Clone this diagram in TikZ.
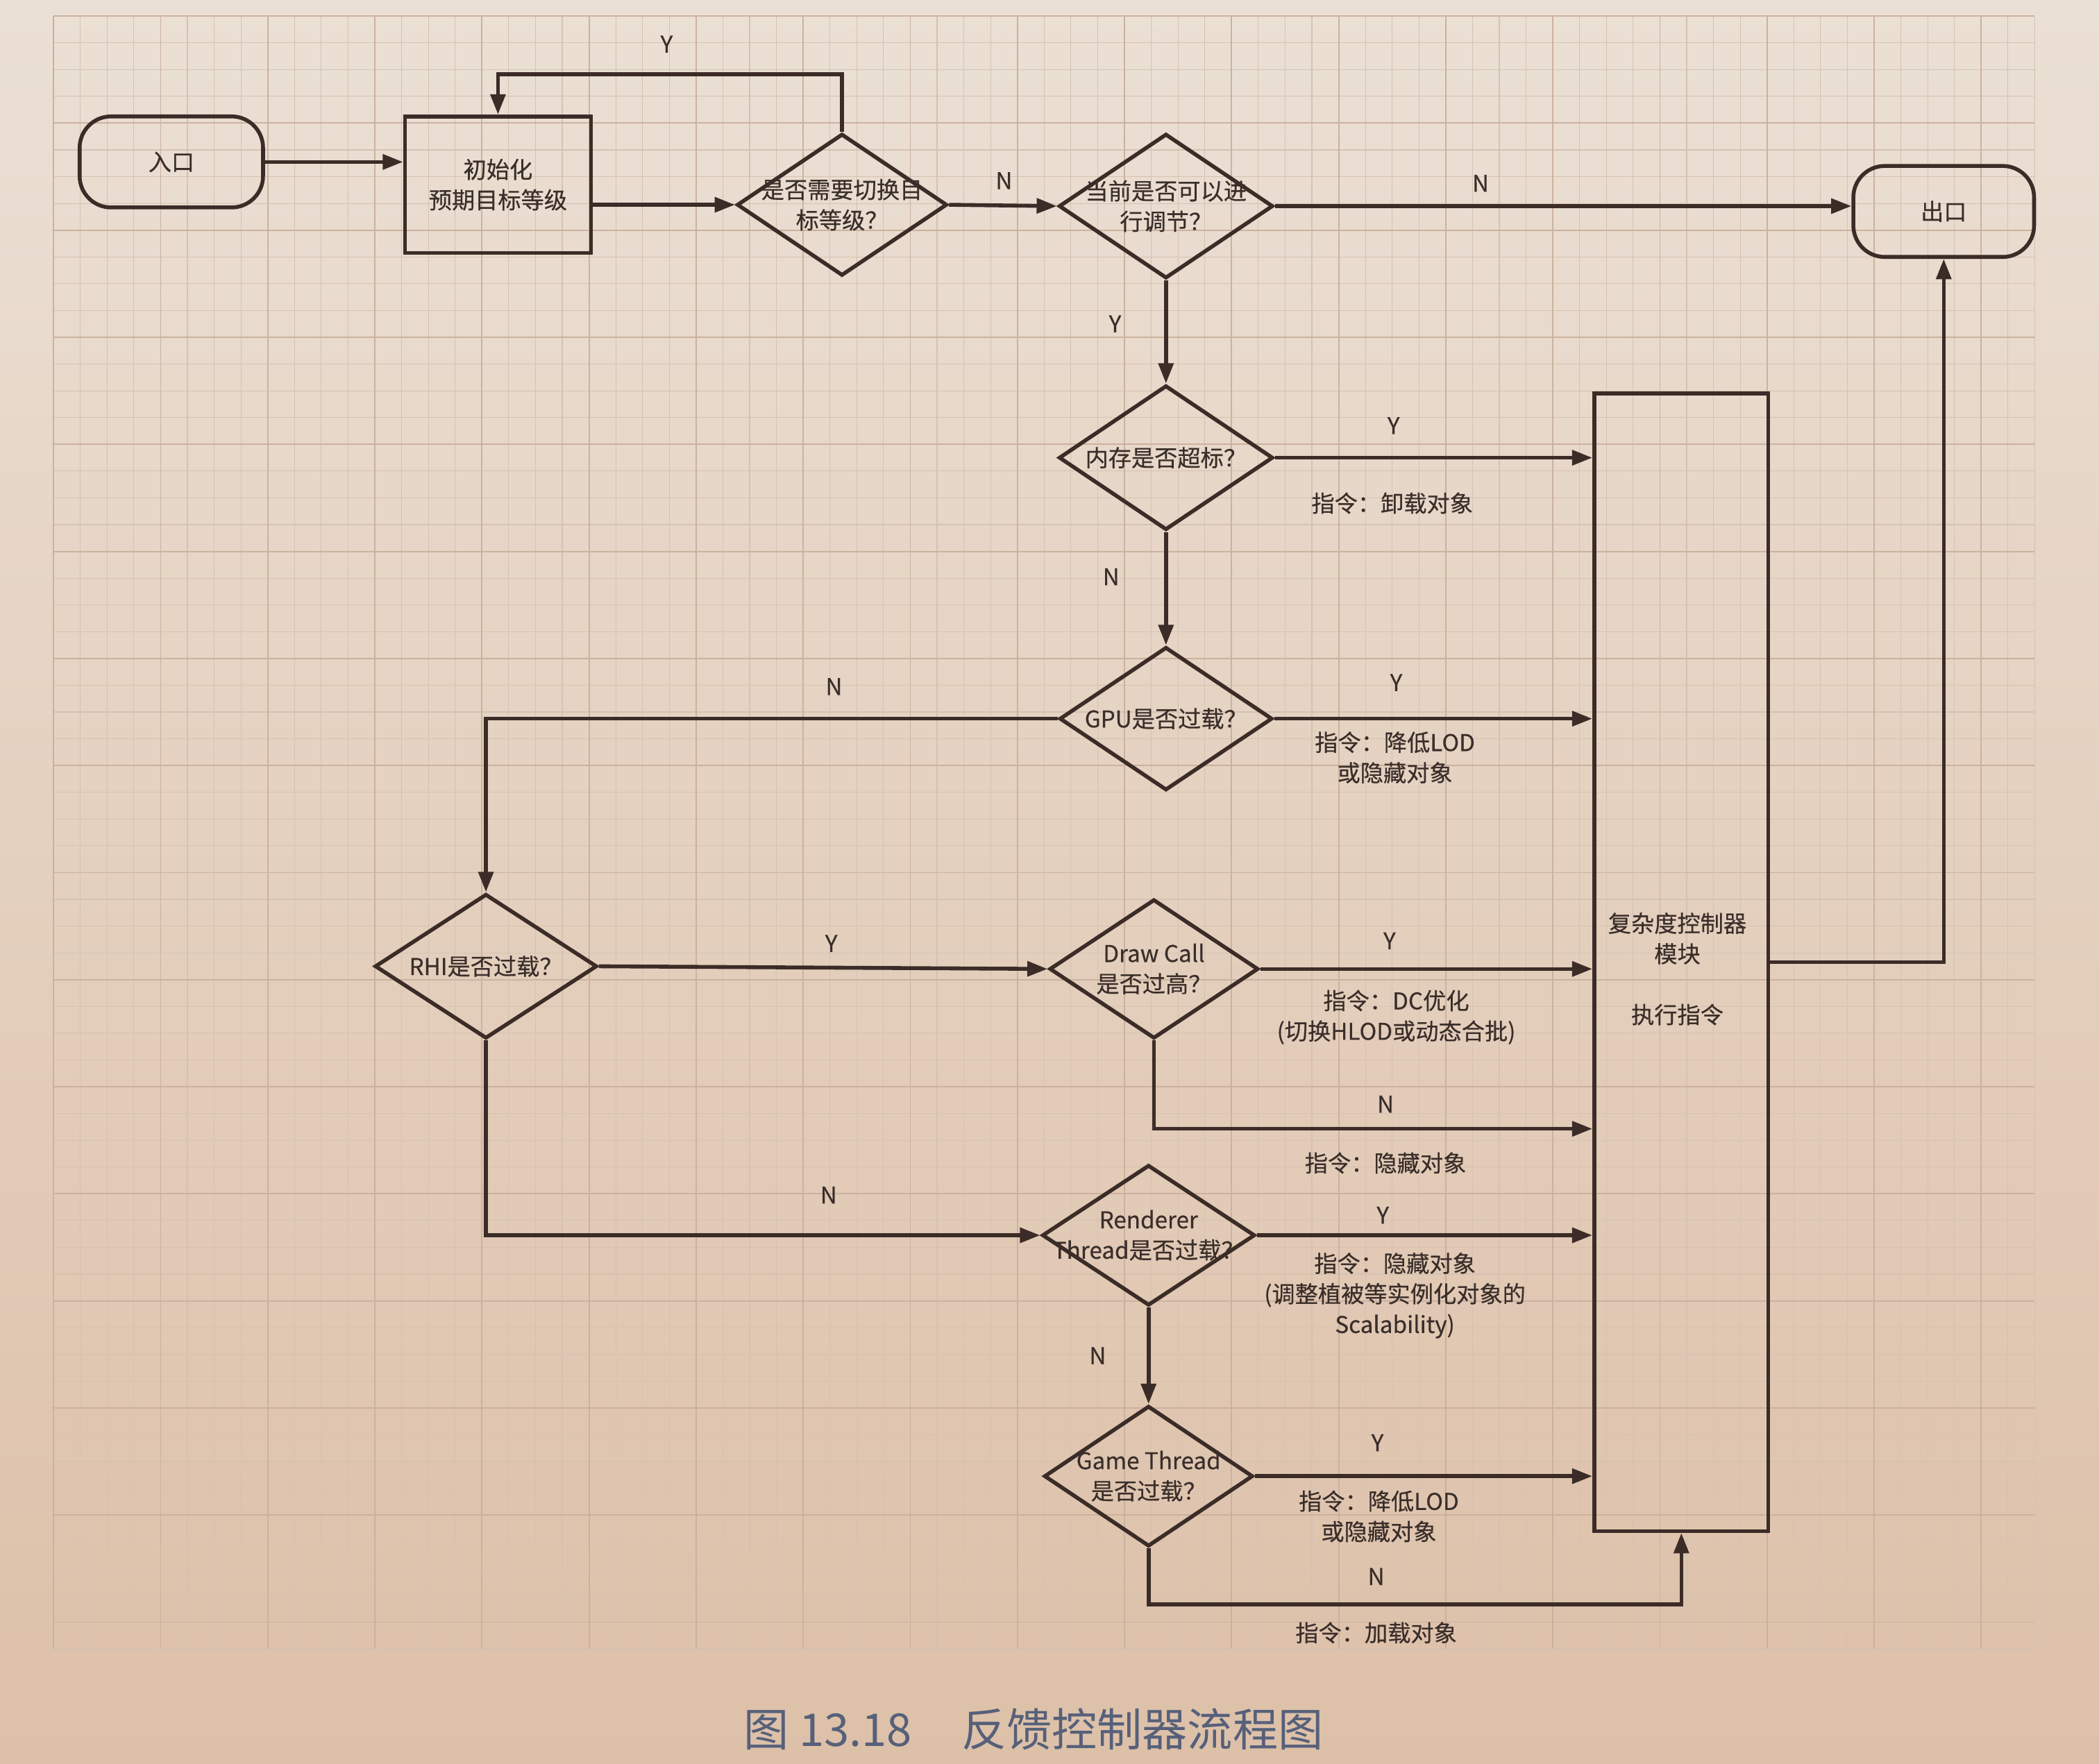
\documentclass[tikz,border=0pt]{standalone}
\usepackage{fontspec}
\setmainfont{Noto Sans CJK SC}[UprightFeatures={FakeBold=0.4}]
\newfontfamily\capfont{Noto Sans CJK SC}
\usetikzlibrary{shapes.geometric,arrows.meta,calc}
\def\UU{0.7257pt}
\definecolor{ink}{HTML}{3B2C27}
\definecolor{txtc}{HTML}{3A2E2A}
\definecolor{papertop}{HTML}{EBE0D5}
\definecolor{paperbot}{HTML}{DDC0A8}
\definecolor{gridminor}{HTML}{D5C2B1}
\definecolor{gridmajor}{HTML}{CBB29E}
\definecolor{capc}{HTML}{56607A}
\begin{document}
\begin{tikzpicture}[x=0.7257pt,y=-0.7257pt,
  line/.style={draw=ink,line width=2.1pt},
  arr/.style={draw=ink,line width=2.1pt,-{Triangle[length=11pt,width=8pt]}},
  txt/.style={font=\fontsize{12.5pt}{16.5pt}\selectfont,text=txtc,align=center,inner sep=0pt},
  dia/.style={diamond,draw=ink,line width=2.1pt,inner sep=0pt,fill=none},
  term/.style={rectangle,draw=ink,line width=2.1pt,rounded corners=17pt,txt},
  procbox/.style={rectangle,draw=ink,line width=2.1pt,txt},
  lbl/.style={txt}]
% paper
\shade[top color=papertop,bottom color=paperbot] (0,0) rectangle (1568,1318);
\useasboundingbox (0,0) rectangle (1568,1318);
\foreach \i in {0,...,74}{
  \draw[gridminor,line width=0.45pt] ({40+\i*20},12) -- ({40+\i*20},1232);}
\foreach \i in {0,...,61}{
  \draw[gridminor,line width=0.45pt] (40,{12+\i*20}) -- (1520,{12+\i*20});}
\foreach \i in {0,4,...,72}{
  \draw[gridmajor,line width=0.7pt] ({40+\i*20},12) -- ({40+\i*20},1232);}
\foreach \i in {0,4,...,60}{
  \draw[gridmajor,line width=0.7pt] (40,{12+\i*20}) -- (1520,{12+\i*20});}

% nodes
\node[term,minimum width=137*\UU,minimum height=68*\UU] (entry) at (128,121) {入口};
\node[procbox,minimum width=139*\UU,minimum height=102*\UU] (init) at (372,138) {初始化\\预期目标等级};
\node[term,minimum width=135*\UU,minimum height=68*\UU] (exit) at (1452,158) {出口};
\node[procbox,minimum width=130*\UU,minimum height=850*\UU] (mod) at (1256,719) {};
\node[txt] (modt) at (1253,724) {复杂度控制器\\模块\\[16.5pt]执行指令};

\node[dia,minimum width=157*\UU,minimum height=106*\UU] (d1) at (629,153) {};
\node[txt] (d1t) at (d1.center) {是否需要切换目\\标等级？};
\node[dia,minimum width=160*\UU,minimum height=108*\UU] (d2) at (871,154) {};
\node[txt] (d2t) at (d2.center) {当前是否可以进\\行调节？};
\node[dia,minimum width=160*\UU,minimum height=108*\UU] (d3) at (871,342) {};
\node[txt] (d3t) at (d3.center) {内存是否超标？};
\node[dia,minimum width=159*\UU,minimum height=107*\UU] (d4) at (871,537) {};
\node[txt] (d4t) at (d4.center) {GPU是否过载？};
\node[dia,minimum width=166*\UU,minimum height=108*\UU] (d5) at (363,722) {};
\node[txt] (d5t) at (d5.center) {RHI是否过载？};
\node[dia,minimum width=156*\UU,minimum height=104*\UU] (d6) at (862,724) {};
\node[txt] (d6t) at (d6.center) {Draw Call\\是否过高？};
\node[dia,minimum width=159*\UU,minimum height=105*\UU] (d7) at (858,923) {};
\node[txt] (d7t) at (d7.center) {Renderer\\Thread是否过载？};
\node[dia,minimum width=156*\UU,minimum height=105*\UU] (d8) at (858,1103) {};
\node[txt] (d8t) at (d8.center) {Game Thread\\是否过载？};

% connectors
\draw[arr] (entry.east) -- (entry.east -| init.west);
\draw[arr] (init.east |- d1.west) -- (d1.west);
\coordinate (loopc) at ($(init.north)+(0,-30)$);
\draw[arr] (d1.north) |- (loopc) -- (init.north);
\draw[arr] (d1.east) -- (d2.west);
\draw[arr] (d2.east) -- (d2.east -| exit.west);
\draw[arr] (d2.south) -- (d3.north);
\draw[arr] (d3.east) -- (d3.east -| mod.west);
\draw[arr] (d3.south) -- (d4.north);
\draw[arr] (d4.east) -- (d4.east -| mod.west);
\draw[arr] (d4.west) -| (d5.north);
\draw[arr] (d5.east) -- (d6.west);
\draw[arr] (d6.east) -- (d6.east -| mod.west);
\coordinate (c6) at ($(d6.south)+(0,66)$);
\draw[arr] (d6.south) |- (c6 -| mod.west);
\draw[arr] (d5.south) |- (d7.west);
\draw[arr] (d7.east) -- (d7.east -| mod.west);
\draw[arr] (d7.south) -- (d8.north);
\draw[arr] (d8.east) -- (d8.east -| mod.west);
\coordinate (c8) at ($(d8.south)+(0,42)$);
\draw[arr] (d8.south) |- (c8 -| mod.south) -- (mod.south);
\draw[arr] (mod.east) -| (exit.south);

% labels
\node[lbl] (l1) at (498,33) {Y};
\node[lbl] (l2) at (750,135) {N};
\node[lbl] (l3) at (1106,137) {N};
\node[lbl] (l4) at (833,242) {Y};
\node[lbl] (l5) at (1041,318) {Y};
\node[lbl] (i5) at (1040,376) {指令：卸载对象};
\node[lbl] (l6) at (830,431) {N};
\node[lbl] (l7) at (1043,510) {Y};
\node[lbl] (i7) at (1042,566) {指令：降低LOD\\或隐藏对象};
\node[lbl] (l8) at (623,513) {N};
\node[lbl] (l9) at (621,705) {Y};
\node[lbl] (l10) at (1038,703) {Y};
\node[lbl] (i10) at (1043,760) {指令：DC优化\\(切换HLOD或动态合批)};
\node[lbl] (l11) at (1035,825) {N};
\node[lbl] (i11) at (1035,869) {指令：隐藏对象};
\node[lbl] (l12) at (619,893) {N};
\node[lbl] (l13) at (1033,908) {Y};
\node[lbl] (i13) at (1042,968) {指令：隐藏对象\\(调整植被等实例化对象的\\Scalability)};
\node[lbl] (l14) at (820,1013) {N};
\node[lbl] (l15) at (1029,1078) {Y};
\node[lbl] (i15) at (1030,1133) {指令：降低LOD\\或隐藏对象};
\node[lbl] (l16) at (1028,1178) {N};
\node[lbl] (i16) at (1028,1220) {指令：加载对象};

% caption
\node[font=\capfont\fontsize{24.5pt}{30pt}\selectfont,text=capc,inner sep=0pt] (cap) at (772,1292) {图 13.18\hspace{1.1em}反馈控制器流程图};
\end{tikzpicture}
\end{document}
